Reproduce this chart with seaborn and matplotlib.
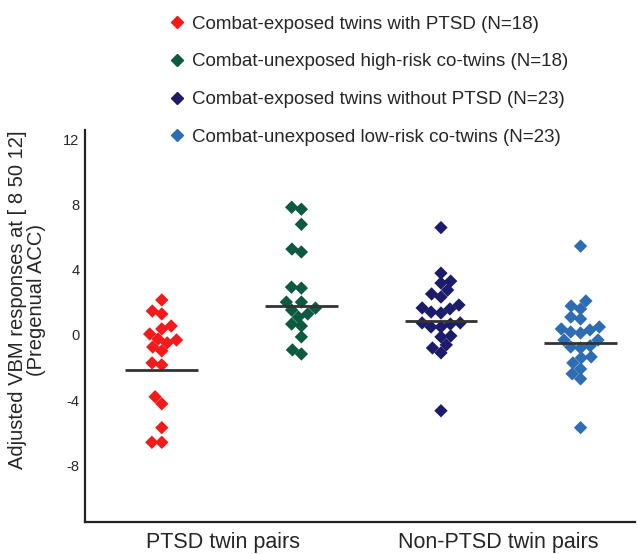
import numpy as np
import pandas as pd
import matplotlib
matplotlib.use("Agg")
import matplotlib.pyplot as plt
from matplotlib.lines import Line2D
import seaborn as sns

# Group names (legend text) and their colours
groups = [
    "Combat-exposed twins with PTSD (N=18)",
    "Combat-unexposed high-risk co-twins (N=18)",
    "Combat-exposed twins without PTSD (N=23)",
    "Combat-unexposed low-risk co-twins (N=23)",
]
colors = ["#f21a1a", "#0d5a40", "#1c1c6b", "#2e6db4"]

# Individual adjusted VBM responses per group
ptsd_exposed = [2.15, 1.47, 1.29, 0.55, 0.37, 0.06, -0.25, -0.31, -0.49,
                -0.74, -0.98, -1.72, -1.84, -3.8, -4.23, -5.7, -6.6, -6.6]
ptsd_cotwin = [7.85, 7.73, 6.8, 5.28, 5.1, 2.94, 2.88, 2.02, 2.02, 1.65,
               1.53, 1.29, 1.1, 0.67, 0.55, -0.12, -0.92, -1.17]
nonptsd_exposed = [6.6, 3.8, 3.31, 3.19, 2.76, 2.52, 2.33, 1.84, 1.66, 1.6,
                   1.41, 1.35, 0.74, 0.74, 0.67, 0.49, 0.49, -0.06,
                   -0.12, -0.61, -0.8, -1.1, -4.66]
nonptsd_cotwin = [5.46, 2.09, 1.78, 1.6, 1.1, 0.98, 0.49, 0.37, 0.31, 0.18,
                  0.12, -0.31, -0.31, -0.67, -0.74, -0.8, -1.35, -1.41,
                  -1.72, -2.09, -2.39, -2.7, -5.7]

# Group reference lines
group_lines = [-2.15, 1.78, 0.86, -0.49]

# Category labels along the x axis
pair_labels = ["PTSD twin pairs", "Non-PTSD twin pairs"]
yticks = [-8, -4, 0, 4, 8, 12]

series = [ptsd_exposed, ptsd_cotwin, nonptsd_exposed, nonptsd_cotwin]
df = pd.DataFrame({
    "group": np.concatenate([[g] * len(v) for g, v in zip(groups, series)]),
    "value": np.concatenate(series),
})

sns.set_style("white")
plt.rcParams["font.family"] = ["Liberation Sans", "DejaVu Sans"]

fig = plt.figure(figsize=(6.44, 5.54), dpi=100)
ax = fig.add_axes([85 / 644, 32 / 554, 550 / 644, 392 / 554])

sns.swarmplot(data=df, x="group", y="value", hue="group", order=groups,
              hue_order=groups, palette=colors, marker="D", size=6.8,
              linewidth=0, legend=False, ax=ax)

for i, m in enumerate(group_lines):
    ax.hlines(m, i - 0.26, i + 0.26, color="#333333", lw=2.0, zorder=5)

ax.set_xlim(-0.55, 3.39)
ax.set_ylim(-11.5, 12.6)

# Axes styling: only left and bottom spines
for s in ["top", "right"]:
    ax.spines[s].set_visible(False)
for s in ["left", "bottom"]:
    ax.spines[s].set_color("#222222")
    ax.spines[s].set_linewidth(1.6)

ax.set_yticks(yticks)
ax.set_yticklabels([str(t) for t in yticks], fontsize=10.5)
ax.tick_params(axis="y", length=0, pad=4)

# Major ticks: dividers between pair types; minor ticks carry the labels
ax.set_xticks([1.42, 3.39])
ax.set_xticklabels(["", ""])
ax.tick_params(axis="x", which="major", direction="in", length=7,
               width=1.6, color="#222222")
ax.set_xticks([0.44, 2.41], minor=True)
ax.set_xticklabels(pair_labels, minor=True, fontsize=15.5)
ax.tick_params(axis="x", which="minor", length=0, pad=7)
ax.set_xlabel("")

ax.set_ylabel("Adjusted VBM responses at [ 8 50 12]\n(Pregenual ACC)",
              fontsize=14.5, linespacing=1.0)
ax.yaxis.set_label_coords(-0.070, 0.566)

handles = [Line2D([0], [0], marker="D", linestyle="none", color=c,
                  markersize=6.5) for c in colors]
fig.legend(handles, groups, loc="upper left",
           bbox_to_anchor=(160 / 644, 1 - 8 / 554), frameon=False,
           fontsize=13.5, labelspacing=1.1, handletextpad=0.3,
           handlelength=1.0, borderaxespad=0)

fig.savefig("out.png", dpi=100)
